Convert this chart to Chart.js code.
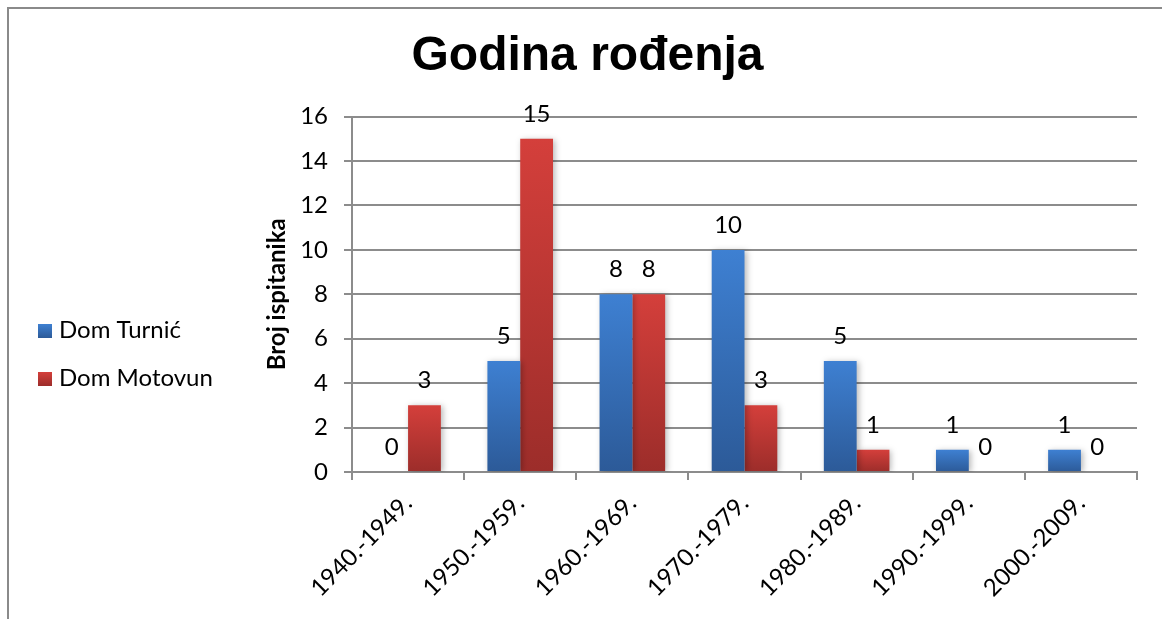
<!DOCTYPE html>
<html>
<head>
<meta charset="utf-8">
<script src="https://cdn.jsdelivr.net/npm/chart.js@4.4.1/dist/chart.umd.min.js"></script>
<style>
  html, body { margin: 0; padding: 0; background: #fff; overflow: hidden; }
  #wrap { position: relative; width: 1162px; height: 619px; }
  #frame { position: absolute; left: 7px; top: 7px; width: 1200px; height: 700px; border: 2px solid #8a8a8a; }
  canvas { position: absolute; left: 0; top: 0; }
</style>
</head>
<body>
<div id="wrap">
  <div id="frame"></div>
  <canvas id="chart" width="1162" height="619"></canvas>
</div>
<script>
// Data
const categories = ['1940.-1949.', '1950.-1959.', '1960.-1969.', '1970.-1979.', '1980.-1989.', '1990.-1999.', '2000.-2009.'];
const turnicValues = [0, 5, 8, 10, 5, 1, 1];
const motovunValues = [3, 15, 8, 3, 1, 0, 0];
const seriesNames = ['Dom Turnić', 'Dom Motovun'];
const yTicks = [0, 2, 4, 6, 8, 10, 12, 14, 16];

const BLUE = ['#3e80d2', '#2c5a98'];
const RED = ['#d43f3b', '#9c2d2a'];
const FONT = 'Lato';

// vertical gradient per bar, light at top, dark at the base
function barGradient(colors) {
  return function(context) {
    const chart = context.chart;
    if (!chart.chartArea || context.type !== 'data') return colors[0];
    const y = chart.scales.y;
    const top = y.getPixelForValue(context.raw);
    const base = y.getPixelForValue(0);
    if (Math.abs(base - top) < 1) return colors[0];
    const g = chart.ctx.createLinearGradient(0, top, 0, base);
    g.addColorStop(0, colors[0]);
    g.addColorStop(1, colors[1]);
    return g;
  };
}

// soft shadow behind the bars + value labels above them
const barExtras = {
  id: 'barExtras',
  beforeDatasetsDraw(chart) {
    const ctx = chart.ctx;
    ctx.save();
    ctx.shadowColor = 'rgba(0,0,0,0.28)';
    ctx.shadowBlur = 6;
    ctx.shadowOffsetX = 2;
    ctx.shadowOffsetY = 1;
  },
  afterDatasetsDraw(chart) {
    const ctx = chart.ctx;
    ctx.restore();
    ctx.save();
    ctx.font = '24px ' + FONT;
    ctx.fillStyle = '#000';
    ctx.textAlign = 'center';
    ctx.textBaseline = 'alphabetic';
    chart.data.datasets.forEach((ds, i) => {
      chart.getDatasetMeta(i).data.forEach((bar, j) => {
        ctx.fillText(String(ds.data[j]), bar.x, bar.y - 17);
      });
    });
    ctx.restore();
  }
};

// legend on the left side, like the original
const sideLegend = {
  id: 'sideLegend',
  afterDraw(chart) {
    const ctx = chart.ctx;
    const cols = [BLUE, RED];
    ctx.save();
    ctx.font = '24px ' + FONT;
    ctx.textBaseline = 'alphabetic';
    chart.data.datasets.forEach((ds, i) => {
      const top = 324 + i * 48;
      const g = ctx.createLinearGradient(0, top, 0, top + 14);
      g.addColorStop(0, cols[i][0]);
      g.addColorStop(1, cols[i][1]);
      ctx.fillStyle = g;
      ctx.fillRect(38, top, 14, 14);
      ctx.fillStyle = '#000';
      ctx.fillText(ds.label, 59, top + 14);
    });
    ctx.restore();
  }
};

new Chart(document.getElementById('chart'), {
  type: 'bar',
  data: {
    labels: categories,
    datasets: [
      { label: seriesNames[0], data: turnicValues, backgroundColor: barGradient(BLUE) },
      { label: seriesNames[1], data: motovunValues, backgroundColor: barGradient(RED) }
    ]
  },
  options: {
    responsive: false,
    animation: false,
    layout: { padding: { left: 38, right: 25, top: 0, bottom: 0 } },
    datasets: {
      bar: { categoryPercentage: 0.585, barPercentage: 1 }
    },
    scales: {
      x: {
        afterFit(scale) { scale.height = 147; },
        grid: { offset: true, drawOnChartArea: false, drawTicks: true, tickLength: 8, color: '#8c8c8c', lineWidth: 2 },
        border: { color: '#8c8c8c', width: 2 },
        ticks: { minRotation: 45, maxRotation: 45, padding: 9, color: '#000', font: { family: FONT, size: 24 } }
      },
      y: {
        min: 0,
        max: 16,
        afterFit(scale) { scale.width = 314; },
        afterBuildTicks(scale) { scale.ticks = yTicks.map(v => ({ value: v })); },
        grid: { color: '#8c8c8c', lineWidth: 2, tickLength: 8 },
        border: { color: '#8c8c8c', width: 2 },
        ticks: { padding: 16, color: '#000', font: { family: FONT, size: 24 } },
        title: {
          display: true,
          text: 'Broj ispitanika',
          color: '#000',
          padding: { top: 225, bottom: 0 },
          font: { family: FONT, size: 24, weight: 'bold' }
        }
      }
    },
    plugins: {
      legend: { display: false },
      tooltip: { enabled: false },
      title: {
        display: true,
        text: 'Godina rođenja',
        color: '#000',
        padding: { top: 28, bottom: 31 },
        font: { family: 'Liberation Sans', size: 48, weight: 'bold', lineHeight: 1.2 }
      }
    }
  },
  plugins: [barExtras, sideLegend]
});
</script>
</body>
</html>
